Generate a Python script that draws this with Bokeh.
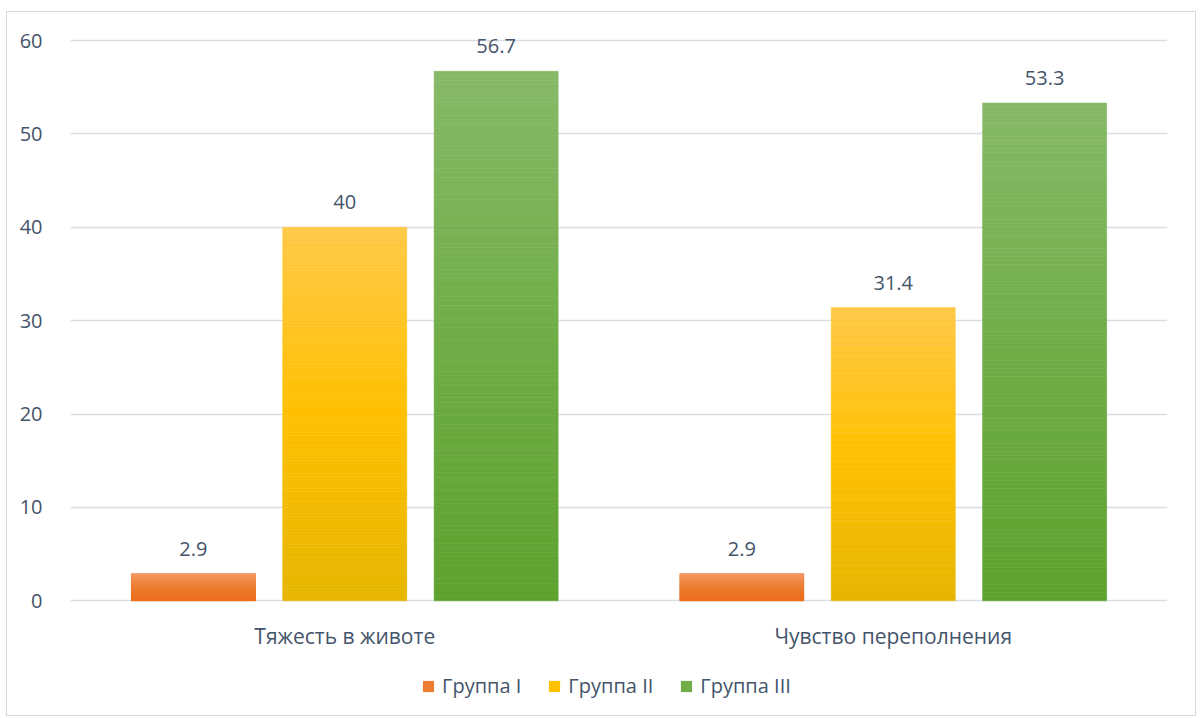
from bokeh.plotting import figure
from bokeh.models import ColumnDataSource, FactorRange, Range1d, Legend, LegendItem
from bokeh.transform import dodge
from bokeh.core.properties import value
from bokeh.embed import file_html
from bokeh.resources import INLINE

categories = ["Тяжесть в животе", "Чувство переполнения"]
groups = ["Группа I", "Группа II", "Группа III"]
group_1 = [2.9, 2.9]
group_2 = [40, 31.4]
group_3 = [56.7, 53.3]
series = [group_1, group_2, group_3]
y_ticks = [0, 10, 20, 30, 40, 50, 60]

# gradient stops (top, middle, bottom) for each series
gradients = [
    ("#F49A62", "#ED7D31", "#EC6E1E"),
    ("#FFC947", "#FFC000", "#E6B500"),
    ("#86B967", "#70AD47", "#5EA22E"),
]
offsets = [-0.276, 0.0, 0.276]
bar_w = 0.226
FONT = "Open Sans"
TXT = "#44546A"
GRID = "#D9DEE6"


def hex2rgb(h):
    h = h.lstrip("#")
    return tuple(int(h[i:i + 2], 16) for i in (0, 2, 4))


def mix(a, b, t):
    ra, rb = hex2rgb(a), hex2rgb(b)
    return "#%02x%02x%02x" % tuple(round(x + (y - x) * t) for x, y in zip(ra, rb))


def grad_color(stops, t):
    # t = 0 at top, 1 at bottom
    top, mid, bot = stops
    if t < 0.5:
        return mix(top, mid, t / 0.5)
    return mix(mid, bot, (t - 0.5) / 0.5)


p = figure(
    x_range=FactorRange(*categories, range_padding=0),
    y_range=Range1d(-12.5, 63.0),
    width=1190, height=705,
    output_backend="svg", toolbar_location=None,
    min_border_left=63, min_border_right=30,
    min_border_top=0, min_border_bottom=0,
)
p.margin = (11, 0, 0, 6)
p.styles = {"border": "1px solid #D9D9D9"}
p.outline_line_color = None
p.background_fill_color = "white"
p.border_fill_color = "white"

N = 120
for gi, (vals, stops) in enumerate(zip(series, gradients)):
    xs, bottoms, tops, colors = [], [], [], []
    for cat, v in zip(categories, vals):
        for i in range(N):
            xs.append(cat)
            bottoms.append(v * i / N)
            tops.append(v * (i + 1) / N)
            t = 1 - (i + 0.5) / N
            colors.append(grad_color(stops, t))
    src = ColumnDataSource(dict(x=xs, bottom=bottoms, top=tops, c=colors))
    p.vbar(x=dodge("x", offsets[gi], range=p.x_range), bottom="bottom", top="top",
           width=bar_w, source=src, fill_color="c", line_color="c", line_width=0.6)

    lab = ColumnDataSource(dict(x=categories, y=vals, t=[f"{v:g}" for v in vals]))
    p.text(x=dodge("x", offsets[gi], range=p.x_range), y="y", text="t", source=lab,
           text_align="center", text_baseline="bottom", y_offset=-18,
           text_font=value(FONT), text_font_size="20px", text_color=TXT)

# category labels under the baseline
cat_src = ColumnDataSource(dict(x=categories, y=[0] * len(categories), t=categories))
p.text(x="x", y="y", text="t", source=cat_src, text_align="center", text_baseline="top",
       y_offset=21, text_font=value(FONT), text_font_size="21px", text_color=TXT)

# legend proxies (filled squares, kept outside the visible range)
legend_items = []
for gi, g in enumerate(groups):
    pr = p.vbar(x=[categories[0]], bottom=[-200], top=[-199], width=0.1,
                fill_color=gradients[gi][1], line_color=None)
    legend_items.append(LegendItem(label=g, renderers=[pr]))

legend = Legend(items=legend_items, orientation="horizontal", location=(351, 18),
                glyph_width=14, glyph_height=14, label_standoff=7, spacing=26,
                padding=0, margin=0, border_line_color=None, background_fill_alpha=0,
                label_text_font=FONT, label_text_font_size="20px", label_text_color=TXT,
                label_height=24)
p.add_layout(legend, "center")

p.yaxis.ticker = y_ticks
p.yaxis.axis_line_color = None
p.yaxis.major_tick_line_color = None
p.yaxis.minor_tick_line_color = None
p.yaxis.major_label_standoff = 22
p.yaxis.major_label_text_font = FONT
p.yaxis.major_label_text_font_size = "20px"
p.yaxis.major_label_text_color = TXT

p.xaxis.visible = False

p.xgrid.grid_line_color = None
p.ygrid.ticker = y_ticks
p.ygrid.grid_line_color = GRID
p.ygrid.grid_line_width = 1.5

open("out.html", "w").write(file_html(p, INLINE))
